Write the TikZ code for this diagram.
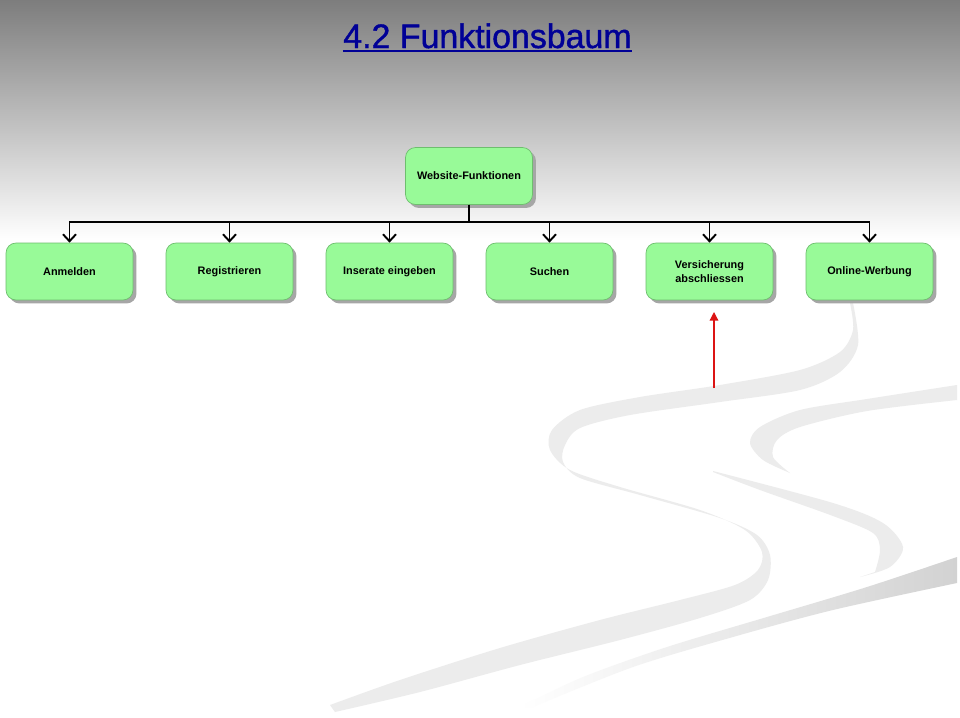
\documentclass[tikz,border=0pt]{standalone}
\usepackage{fontspec}
\setmainfont{Liberation Sans}
\newfontfamily\titlefont[FakeBold=1.2]{Liberation Sans}
\usepackage{tikz}
\usetikzlibrary{arrows.meta, shadows, positioning}
\definecolor{myblue}{RGB}{0,0,150}
\definecolor{mygreen}{RGB}{152,250,152}
\definecolor{mygreenframe}{RGB}{110,190,110}
\definecolor{myred}{RGB}{220,20,20}
\definecolor{mytopgray}{RGB}{125,125,125}
\definecolor{myswoosh}{RGB}{236,236,236}
\definecolor{myswooshdark}{RGB}{210,210,210}
\tikzset{
  funcblock/.style={rectangle, draw=mygreenframe, fill=mygreen,
    minimum width=2.54cm, minimum height=1.14cm, align=center,
    font=\fontsize{6.2}{7.9}\selectfont\bfseries, rounded corners=0.2cm, line width=0.4pt,
    drop shadow={shadow xshift=0.07cm, shadow yshift=-0.07cm, fill=black!35, opacity=1}},
  treeline/.style={-{Straight Barb[length=0.14cm, width=0.26cm]}, line width=1.1pt, color=black},
  redarrow/.style={-{Triangle[length=0.17cm, width=0.17cm]}, line width=0.7pt, color=myred},
  swoosh/.style={fill=myswoosh, draw=none}
}

\begin{document}
\begin{tikzpicture}[x=0.02cm, y=-0.02cm]
\useasboundingbox (0,0) rectangle (960,717);
% background
\fill[white] (0,0) rectangle (960,717);
\shade[top color=mytopgray, bottom color=white] (0,0) rectangle (960,240);
% swooshes
\fill[swoosh] plot[smooth] coordinates {(850,303) (853,330) (840,352) (800,370) (720,385) (640,397)
  (580,410) (552,430) (550,450) (570,470) (620,487) (700,510) (745,530) (762,552) (758,570)
  (735,585) (680,600) (600,620) (500,648) (400,680) (330,705)}
  -- plot[smooth] coordinates {(335,712) (420,692) (520,665) (620,640) (700,618) (750,600)
  (768,580) (770,555) (757,535) (720,518) (640,495) (580,478) (563,462) (565,445) (580,428)
  (630,415) (720,402) (800,390) (840,372) (858,345) (853,303)} -- cycle;
\fill[swoosh] plot[smooth] coordinates {(957,385) (867,399) (800,410) (760,427) (750,443) (763,460) (790,473)}
  -- plot[smooth] coordinates {(790,473) (773,457) (777,440) (800,427) (867,411) (957,400)} -- cycle;
\fill[swoosh] plot[smooth] coordinates {(713,471) (833,503) (883,523) (903,547) (890,567) (860,577)}
  -- plot[smooth] coordinates {(875,572) (880,550) (873,533) (833,516) (760,490) (713,472)} -- cycle;
\shade[left color=white, right color=myswooshdark] plot[smooth] coordinates {(957,557) (867,587) (767,617)
  (667,647) (583,677) (520,707)}
  -- plot[smooth] coordinates {(533,707) (633,667) (733,637) (833,610) (957,583)} -- cycle;
% title
\node[anchor=base, inner sep=0pt, text=myblue, font=\titlefont\fontsize{19.3}{23}\selectfont] (title) at (487.5,48) {4.2 Funktionsbaum};
\draw[myblue, line width=1.2pt] ([yshift=-1.7pt]title.base west) -- ([yshift=-1.7pt]title.base east);
% tree
\node[funcblock] (fkt) at (469,176) {Website-Funktionen};
\foreach \name/\txt [count=\i from 0] in {anm/Anmelden, reg/Registrieren, ins/Inserate eingeben,
    such/Suchen, vers/{Versicherung\\abschliessen}, onl/Online-Werbung}
  \node[funcblock] (\name) at (69.5+160*\i,271.5) {\txt};
\foreach \name in {anm,reg,ins,such,vers,onl}
  \draw[treeline] (fkt.south) -- ++(0,17) -| (\name.north);
% hint arrow
\coordinate (hintstart) at (714,388);
\coordinate (hintend) at (714,312);
\draw[redarrow] (hintstart) -- (hintend);
\end{tikzpicture}
\end{document}
